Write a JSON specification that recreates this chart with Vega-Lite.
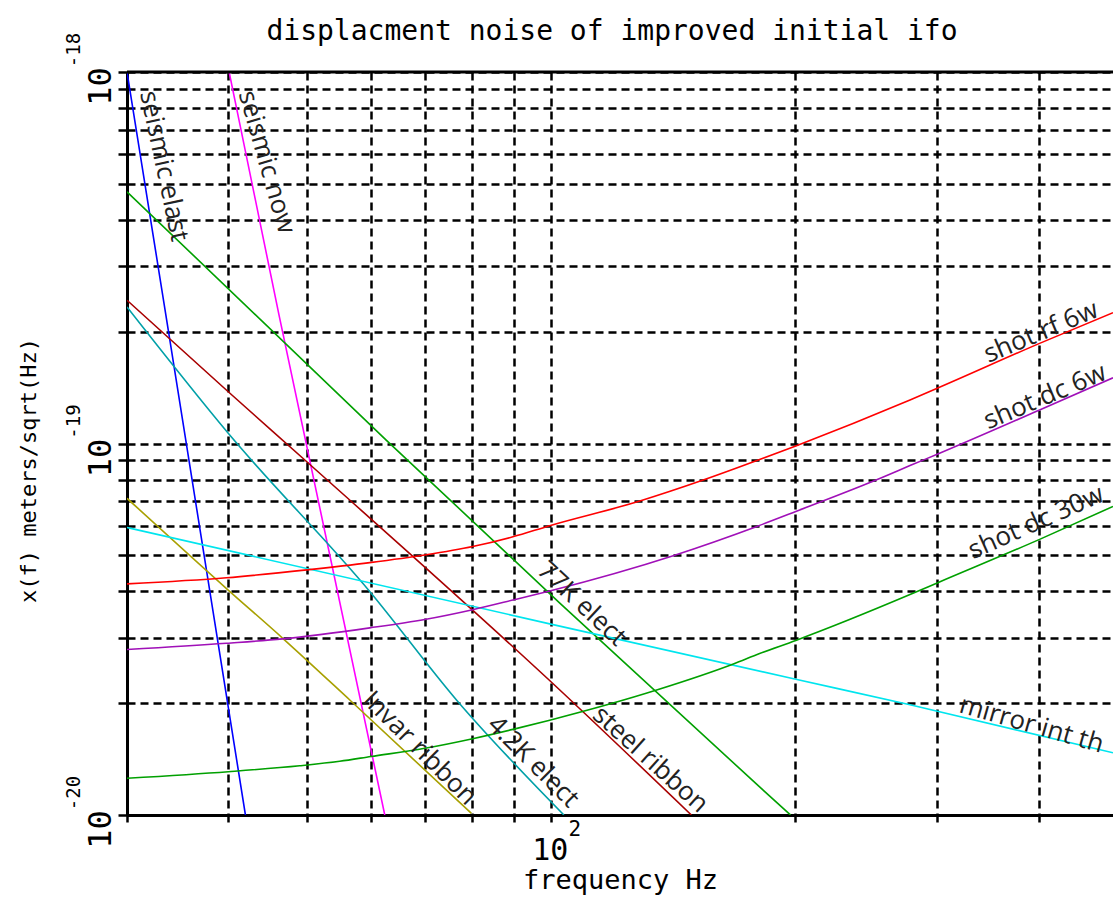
{
  "$schema": "https://vega.github.io/schema/vega-lite/v6.json",
  "width": 986,
  "height": 743,
  "autosize": {"type": "none"},
  "padding": {"left": 127, "top": 72, "right": 0, "bottom": 85},
  "background": "white",
  "title": {"text": "displacment noise of improved initial ifo", "frame": "group", "font": "DejaVu Sans Mono", "fontSize": 28, "fontWeight": "normal", "color": "black", "anchor": "middle", "offset": -13, "dx": -8},
  "config": {
    "view": {"stroke": null},
    "text": {"font": "Open Sans", "fontSize": 26, "color": "#222222", "align": "center", "baseline": "middle"}
  },
  "datasets": {
    "curves": [
      {"name": "seismic elast", "f": 30, "v": 1.0e-18},
      {"name": "seismic elast", "f": 33.5, "v": 2.22e-19},
      {"name": "seismic elast", "f": 42.0, "v": 1.0e-20},
      {"name": "seismic now", "f": 40.1, "v": 1.0e-18},
      {"name": "seismic now", "f": 46.2, "v": 2.22e-19},
      {"name": "seismic now", "f": 62.4, "v": 1.0e-20},
      {"name": "77K elect", "f": 30, "v": 4.76e-19},
      {"name": "77K elect", "f": 62.7, "v": 1.02e-19},
      {"name": "77K elect", "f": 102.6, "v": 3.72e-20},
      {"name": "77K elect", "f": 181, "v": 1.19e-20},
      {"name": "77K elect", "f": 197.6, "v": 1.0e-20},
      {"name": "steel ribbon", "f": 30, "v": 2.43e-19},
      {"name": "steel ribbon", "f": 40, "v": 1.378e-19},
      {"name": "steel ribbon", "f": 50, "v": 8.93e-20},
      {"name": "steel ribbon", "f": 102.6, "v": 2.17e-20},
      {"name": "steel ribbon", "f": 149.1, "v": 1.0e-20},
      {"name": "4.2K elect", "f": 30, "v": 2.33e-19},
      {"name": "4.2K elect", "f": 40, "v": 1.065e-19},
      {"name": "4.2K elect", "f": 60, "v": 3.96e-20},
      {"name": "4.2K elect", "f": 76.5, "v": 2.04e-20},
      {"name": "4.2K elect", "f": 103.8, "v": 1.0e-20},
      {"name": "invar ribbon", "f": 30, "v": 7.12e-20},
      {"name": "invar ribbon", "f": 39.8, "v": 4.07e-20},
      {"name": "invar ribbon", "f": 46.7, "v": 2.99e-20},
      {"name": "invar ribbon", "f": 56.5, "v": 2.04e-20},
      {"name": "invar ribbon", "f": 79.8, "v": 1.01e-20},
      {"name": "mirror int th", "f": 30, "v": 5.94e-20},
      {"name": "mirror int th", "f": 99.7, "v": 3.27e-20},
      {"name": "mirror int th", "f": 200.6, "v": 2.32e-20},
      {"name": "mirror int th", "f": 277.5, "v": 1.98e-20},
      {"name": "mirror int th", "f": 494, "v": 1.47e-20},
      {"name": "shot rf 6w", "f": 30, "v": 4.19e-20},
      {"name": "shot rf 6w", "f": 39.8, "v": 4.35e-20},
      {"name": "shot rf 6w", "f": 50, "v": 4.57e-20},
      {"name": "shot rf 6w", "f": 59.8, "v": 4.78e-20},
      {"name": "shot rf 6w", "f": 69.9, "v": 5.01e-20},
      {"name": "shot rf 6w", "f": 80.1, "v": 5.28e-20},
      {"name": "shot rf 6w", "f": 89.8, "v": 5.61e-20},
      {"name": "shot rf 6w", "f": 99.7, "v": 6.01e-20},
      {"name": "shot rf 6w", "f": 128.8, "v": 7.0e-20},
      {"name": "shot rf 6w", "f": 154.2, "v": 7.97e-20},
      {"name": "shot rf 6w", "f": 181, "v": 9.05e-20},
      {"name": "shot rf 6w", "f": 200.6, "v": 9.85e-20},
      {"name": "shot rf 6w", "f": 277.5, "v": 1.31e-19},
      {"name": "shot rf 6w", "f": 300.3, "v": 1.41e-19},
      {"name": "shot rf 6w", "f": 401, "v": 1.86e-19},
      {"name": "shot rf 6w", "f": 494, "v": 2.25e-19},
      {"name": "shot dc 6w", "f": 30, "v": 2.79e-20},
      {"name": "shot dc 6w", "f": 39.8, "v": 2.9e-20},
      {"name": "shot dc 6w", "f": 46.7, "v": 2.98e-20},
      {"name": "shot dc 6w", "f": 59.8, "v": 3.19e-20},
      {"name": "shot dc 6w", "f": 69.9, "v": 3.36e-20},
      {"name": "shot dc 6w", "f": 80.1, "v": 3.57e-20},
      {"name": "shot dc 6w", "f": 89.8, "v": 3.79e-20},
      {"name": "shot dc 6w", "f": 99.7, "v": 4.01e-20},
      {"name": "shot dc 6w", "f": 141.6, "v": 4.99e-20},
      {"name": "shot dc 6w", "f": 180.3, "v": 6.0e-20},
      {"name": "shot dc 6w", "f": 200.6, "v": 6.56e-20},
      {"name": "shot dc 6w", "f": 257.2, "v": 8.12e-20},
      {"name": "shot dc 6w", "f": 277.5, "v": 8.72e-20},
      {"name": "shot dc 6w", "f": 300.3, "v": 9.37e-20},
      {"name": "shot dc 6w", "f": 401, "v": 1.231e-19},
      {"name": "shot dc 6w", "f": 494, "v": 1.503e-19},
      {"name": "shot dc 30w", "f": 30, "v": 1.256e-20},
      {"name": "shot dc 30w", "f": 40, "v": 1.308e-20},
      {"name": "shot dc 30w", "f": 49, "v": 1.357e-20},
      {"name": "shot dc 30w", "f": 54.9, "v": 1.395e-20},
      {"name": "shot dc 30w", "f": 60, "v": 1.437e-20},
      {"name": "shot dc 30w", "f": 69.9, "v": 1.512e-20},
      {"name": "shot dc 30w", "f": 80.1, "v": 1.605e-20},
      {"name": "shot dc 30w", "f": 89.8, "v": 1.7e-20},
      {"name": "shot dc 30w", "f": 99.7, "v": 1.8e-20},
      {"name": "shot dc 30w", "f": 135.1, "v": 2.17e-20},
      {"name": "shot dc 30w", "f": 168, "v": 2.55e-20},
      {"name": "shot dc 30w", "f": 181, "v": 2.72e-20},
      {"name": "shot dc 30w", "f": 200.6, "v": 2.95e-20},
      {"name": "shot dc 30w", "f": 277.5, "v": 3.92e-20},
      {"name": "shot dc 30w", "f": 300.3, "v": 4.22e-20},
      {"name": "shot dc 30w", "f": 401, "v": 5.52e-20},
      {"name": "shot dc 30w", "f": 494, "v": 6.77e-20}
    ],
    "labels": [
      {"label": "seismic elast", "f": 33.3, "v": 5.58e-19},
      {"label": "seismic now", "f": 44.6, "v": 5.72e-19},
      {"label": "shot rf 6w", "f": 402.7, "v": 1.995e-19},
      {"label": "shot dc 6w", "f": 407.3, "v": 1.336e-19},
      {"label": "shot dc 30w", "f": 397, "v": 6.13e-20},
      {"label": "mirror int th", "f": 392, "v": 1.75e-20},
      {"label": "77K elect", "f": 109.2, "v": 3.7e-20},
      {"label": "steel ribbon", "f": 132.7, "v": 1.41e-20},
      {"label": "4.2K elect", "f": 95.1, "v": 1.391e-20},
      {"label": "Invar ribbon", "f": 68.9, "v": 1.512e-20}
    ],
    "yexps": [
      {"f": 30, "v": 1e-18, "e": "-18"},
      {"f": 30, "v": 1e-19, "e": "-19"},
      {"f": 30, "v": 1e-20, "e": "-20"}
    ],
    "xexps": [
      {"f": 100, "v": 1e-20, "e": "2"}
    ],
    "frame": [
      {"f": 30, "v": 1e-18},
      {"f": 494, "v": 1e-18}
    ]
  },
  "encoding": {
    "x": {
      "field": "f", "type": "quantitative",
      "scale": {"type": "log", "domain": [30, 494], "nice": false, "zero": false},
      "axis": {
        "values": [30, 40, 50, 60, 70, 80, 90, 100, 200, 300, 400],
        "grid": true, "gridColor": "black", "gridDash": [8, 5], "gridWidth": 2.5, "gridOpacity": 1,
        "domainColor": "black", "domainWidth": 3,
        "ticks": true, "tickColor": "black", "tickWidth": 2.5, "tickSize": 7,
        "labelExpr": "datum.value == 100 ? '10' : ''",
        "labelFont": "DejaVu Sans Mono", "labelFontSize": 30, "labelColor": "black",
        "labelAlign": "center", "labelBaseline": "alphabetic", "labelPadding": 37, "labelOffset": -1,
        "labelOverlap": false, "labelFlush": false, "labelBound": false,
        "title": "frequency Hz", "titleFont": "DejaVu Sans Mono", "titleFontSize": 27, "titleFontWeight": "normal", "titleColor": "black",
        "titleBaseline": "alphabetic", "titleAlign": "center", "titleX": 493, "titleY": 73
      }
    },
    "y": {
      "field": "v", "type": "quantitative",
      "scale": {"type": "log", "domain": [1e-20, 1e-18], "nice": false, "zero": false},
      "axis": {
        "values": [1e-20, 2e-20, 3e-20, 4e-20, 5e-20, 6e-20, 7e-20, 8e-20, 9e-20, 1e-19, 2e-19, 3e-19, 4e-19, 5e-19, 6e-19, 7e-19, 8e-19, 9e-19, 1e-18],
        "grid": true, "gridColor": "black", "gridDash": [8, 5], "gridWidth": 2.5, "gridOpacity": 1,
        "domainColor": "black", "domainWidth": 3,
        "ticks": true, "tickColor": "black", "tickWidth": 2.5, "tickSize": 9,
        "labelExpr": "abs(log(datum.value)/LN10 - round(log(datum.value)/LN10)) < 0.01 ? '10' : ''",
        "labelFont": "DejaVu Sans Mono", "labelFontSize": 32, "labelColor": "black",
        "labelAngle": 270, "labelAlign": "center", "labelBaseline": "alphabetic", "labelPadding": 8, "labelOffset": 14,
        "labelOverlap": false, "labelFlush": false, "labelBound": false,
        "title": "x(f) meters/sqrt(Hz)", "titleFont": "DejaVu Sans Mono", "titleFontSize": 22, "titleFontWeight": "normal", "titleColor": "black",
        "titleAngle": 270, "titleBaseline": "middle", "titleAlign": "center", "titleX": -99, "titleY": 398
      }
    }
  },
  "layer": [
    {
      "data": {"name": "curves"},
      "mark": {"type": "line", "clip": true, "strokeWidth": 1.6, "interpolate": "monotone"},
      "encoding": {
        "color": {
          "field": "name", "type": "nominal", "legend": null,
          "scale": {
            "domain": ["seismic elast", "seismic now", "77K elect", "steel ribbon", "4.2K elect", "invar ribbon", "mirror int th", "shot rf 6w", "shot dc 6w", "shot dc 30w"],
            "range": ["#0000ff", "#ff00ff", "#00a000", "#a80000", "#00a0a8", "#a8a000", "#00e5ee", "#ff0000", "#a010b8", "#00a000"]
          }
        }
      }
    },
    {
      "data": {"name": "frame"},
      "mark": {"type": "line", "color": "black", "strokeWidth": 3}
    },
    {
      "data": {"name": "yexps"},
      "mark": {"type": "text", "angle": 270, "align": "center", "baseline": "middle", "dx": 22, "dy": -53, "font": "DejaVu Sans Mono", "fontSize": 19, "color": "black"},
      "encoding": {"text": {"field": "e"}}
    },
    {
      "data": {"name": "xexps"},
      "mark": {"type": "text", "align": "center", "baseline": "middle", "dx": 24, "dy": 15, "font": "DejaVu Sans Mono", "fontSize": 21, "color": "black"},
      "encoding": {"text": {"field": "e"}}
    },
    {
      "data": {"name": "labels"},
      "transform": [{"filter": "datum.label == 'seismic elast'"}],
      "mark": {"type": "text", "angle": 78},
      "encoding": {"text": {"field": "label"}}
    },
    {
      "data": {"name": "labels"},
      "transform": [{"filter": "datum.label == 'seismic now'"}],
      "mark": {"type": "text", "angle": 74},
      "encoding": {"text": {"field": "label"}}
    },
    {
      "data": {"name": "labels"},
      "transform": [{"filter": "datum.label == 'shot rf 6w'"}],
      "mark": {"type": "text", "angle": 337},
      "encoding": {"text": {"field": "label"}}
    },
    {
      "data": {"name": "labels"},
      "transform": [{"filter": "datum.label == 'shot dc 6w'"}],
      "mark": {"type": "text", "angle": 337},
      "encoding": {"text": {"field": "label"}}
    },
    {
      "data": {"name": "labels"},
      "transform": [{"filter": "datum.label == 'shot dc 30w'"}],
      "mark": {"type": "text", "angle": 336},
      "encoding": {"text": {"field": "label"}}
    },
    {
      "data": {"name": "labels"},
      "transform": [{"filter": "datum.label == 'mirror int th'"}],
      "mark": {"type": "text", "angle": 16},
      "encoding": {"text": {"field": "label"}}
    },
    {
      "data": {"name": "labels"},
      "transform": [{"filter": "datum.label == '77K elect'"}],
      "mark": {"type": "text", "angle": 43},
      "encoding": {"text": {"field": "label"}}
    },
    {
      "data": {"name": "labels"},
      "transform": [{"filter": "datum.label == 'steel ribbon'"}],
      "mark": {"type": "text", "angle": 42},
      "encoding": {"text": {"field": "label"}}
    },
    {
      "data": {"name": "labels"},
      "transform": [{"filter": "datum.label == '4.2K elect'"}],
      "mark": {"type": "text", "angle": 45},
      "encoding": {"text": {"field": "label"}}
    },
    {
      "data": {"name": "labels"},
      "transform": [{"filter": "datum.label == 'Invar ribbon'"}],
      "mark": {"type": "text", "angle": 45},
      "encoding": {"text": {"field": "label"}}
    }
  ]
}
